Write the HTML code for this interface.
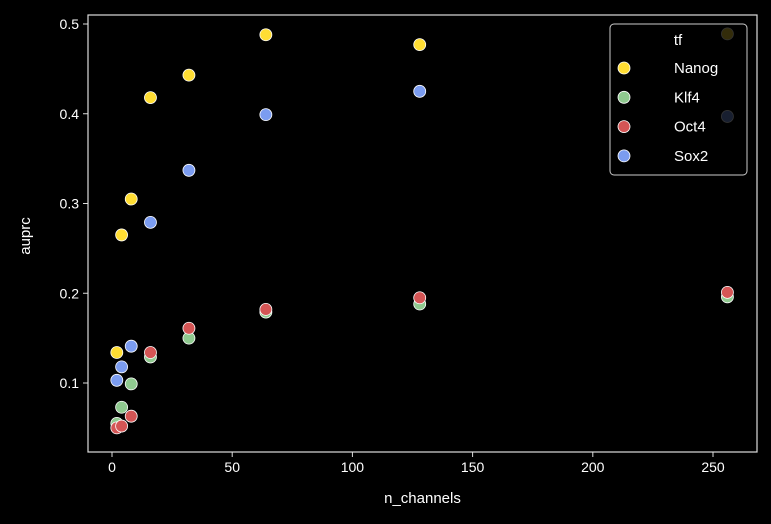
<!DOCTYPE html>
<html><head><meta charset="utf-8"><style>
html,body{margin:0;padding:0;background:#000;overflow:hidden;width:771px;height:524px;}
svg{display:block;}
svg text{font-family:"Liberation Sans","DejaVu Sans",sans-serif;fill:#fff;}
</style></head><body>
<svg id="chart" width="771" height="524" xmlns="http://www.w3.org/2000/svg">
<rect x="0" y="0" width="771" height="524" fill="#000"/>
<g id="plot"></g>
</svg>
<script>
const xVals=[2,4,8,16,32,64,128,256];
const nanog=[0.134,0.265,0.305,0.418,0.443,0.488,0.477,0.489];
const klf4=[0.055,0.073,0.099,0.129,0.150,0.179,0.188,0.196];
const oct4=[0.050,0.052,0.063,0.134,0.161,0.182,0.195,0.201];
const sox2=[0.103,0.118,0.141,0.279,0.337,0.399,0.425,0.397];
const seriesNames=["Nanog","Klf4","Oct4","Sox2"];
const xTicks=[0,50,100,150,200,250];
const yTicks=[0.1,0.2,0.3,0.4,0.5];
const colors=["#ffdd33","#8fc98f","#d45555","#7b9cf0"];
const NS="http://www.w3.org/2000/svg";
const g=document.getElementById('plot');
const L=88,R=757,T=15,B=452;
function xs(v){return 112+v*(713-112)/250;}
function ys(v){return 24+(0.5-v)*897.5;}
function mk(tag,attrs,parent){const e=document.createElementNS(NS,tag);for(const k in attrs)e.setAttribute(k,attrs[k]);(parent||g).appendChild(e);return e;}
const frame=mk('rect',{x:L,y:T,width:R-L,height:B-T,fill:'none',stroke:'#ddd','stroke-width':1.2});


xTicks.forEach(t=>{
 const l=mk('line',{x1:xs(t),x2:xs(t),y1:B,y2:B+5,stroke:'#ddd'});
 
 
 const tx=mk('text',{x:xs(t),y:B+20,'text-anchor':'middle','font-size':14});tx.textContent=t;
 
 
});
yTicks.forEach(t=>{
 const l=mk('line',{x1:L-5,x2:L,y1:ys(t),y2:ys(t),stroke:'#ddd'});
 
 
 const tx=mk('text',{x:L-9,y:ys(t)+5,'text-anchor':'end','font-size':14});tx.textContent=t.toFixed(1);
 
 
});
const xt=mk('text',{x:(L+R)/2,y:503,'text-anchor':'middle','font-size':15});xt.textContent='n_channels';


const yt=mk('text',{x:30,y:236,'text-anchor':'middle','font-size':15,transform:'rotate(-90 30 236)'});yt.textContent='auprc';


[nanog,klf4,oct4,sox2].forEach((s,si)=>{
 s.forEach((v,i)=>{
  const c=mk('circle',{cx:xs(xVals[i]),cy:ys(v),r:6,fill:colors[si],stroke:'#fff','stroke-width':0.8});
  
  
 });
});
const lg=mk('g',{});


const lb=mk('rect',{x:610,y:24,width:137,height:151,rx:4,fill:'#000','fill-opacity':0.8,stroke:'#ccc'},lg);


const lt=mk('text',{x:678,y:45,'text-anchor':'middle','font-size':15},lg);lt.textContent='tf';


seriesNames.forEach((n,i)=>{
 const y=68+i*29.3;
 const c=mk('circle',{cx:624,cy:y,r:6,fill:colors[i],stroke:'#fff','stroke-width':0.8},lg);
 
 
 const t=mk('text',{x:674,y:y+5,'font-size':15},lg);t.textContent=n;
 
 
});
</script>
</body></html>
